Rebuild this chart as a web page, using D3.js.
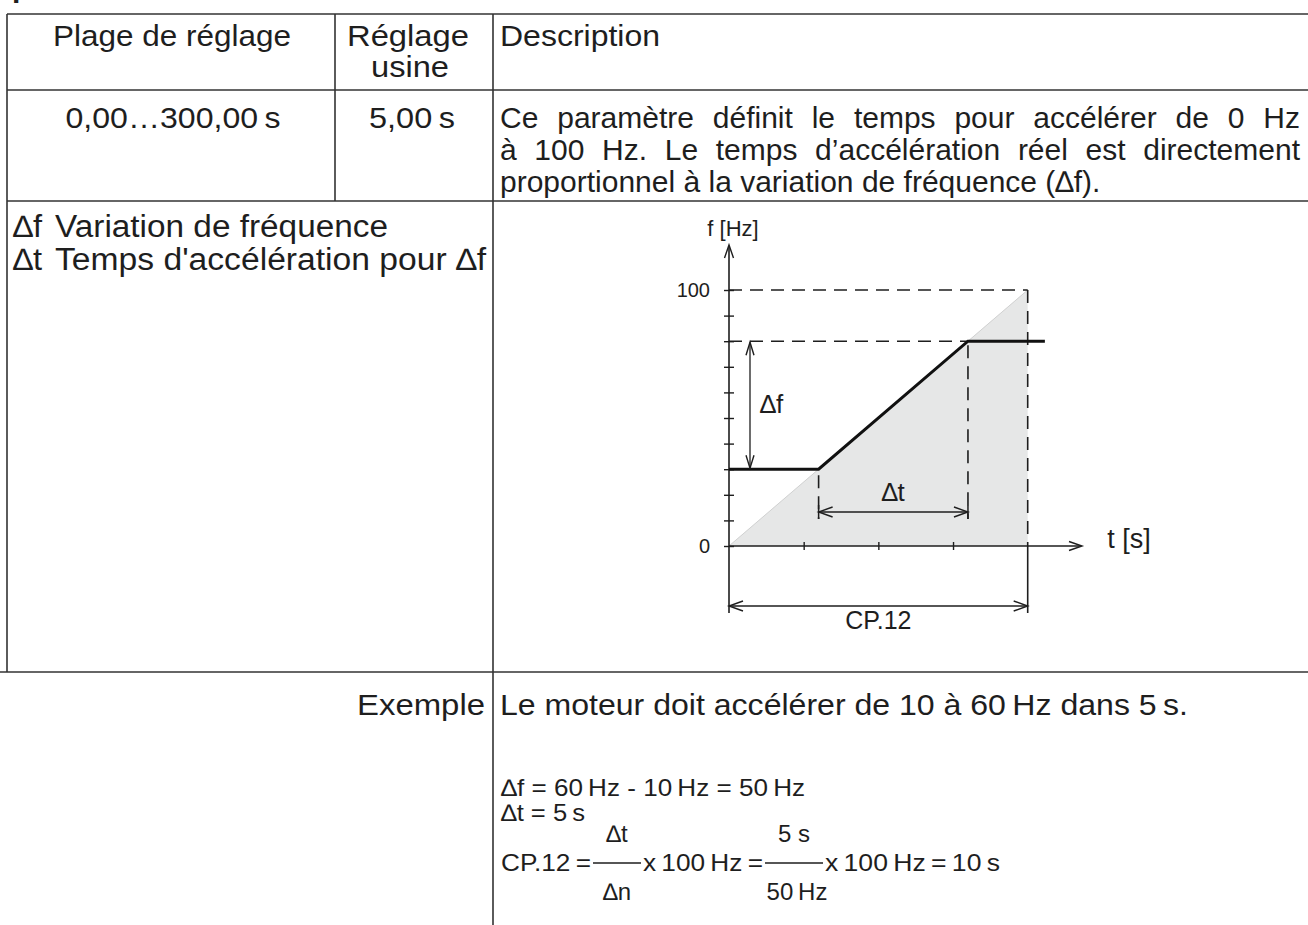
<!DOCTYPE html>
<html><head><meta charset="utf-8">
<script src="https://cdn.jsdelivr.net/npm/d3@7"></script>
<style>
html,body{margin:0;padding:0;background:#fff;}
svg{display:block;font-family:"Liberation Sans",Arial,Helvetica,sans-serif;}
</style></head><body>
<svg id="c" width="1308" height="925"></svg>
<script>
// ---------- DATA ----------
const headerLabels = ["Plage de réglage", "Réglage", "usine", "Description"];
const rangeText = "0,00…300,00\u2009s";
const defaultText = "5,00\u2009s";
const descriptionLines = [
  "Ce paramètre définit le temps pour accélérer de 0 Hz",
  "à 100 Hz. Le temps d’accélération réel est directement",
  "proportionnel à la variation de fréquence (\u2206f)."
];
const legendSymbols = ["\u2206f", "\u2206t"];
const legendTexts = ["Variation de fréquence", "Temps d'accélération pour \u2206f"];
const exampleLabel = "Exemple";
const exampleSentence = "Le moteur doit accélérer de 10 à 60\u2009Hz dans 5\u2009s.";
const exampleCalc = ["\u2206f = 60\u2009Hz - 10\u2009Hz = 50\u2009Hz", "\u2206t = 5\u2009s"];
const formulaParts = ["CP.12\u2009=", "x\u2009100\u2009Hz\u2009=", "x\u2009100\u2009Hz\u2009=\u200910\u2009s"];
const fractionNum = ["\u2206t", "5 s"];
const fractionDen = ["\u2206n", "50\u2009Hz"];

const yTicks = [0, 10, 20, 30, 40, 50, 60, 70, 80, 90, 100];
const yTickLabels = [{v: 0, label: "0"}, {v: 100, label: "100"}];
const xTicks = [1, 2, 3];
const tCP = 4;                  // CP.12 : time to reach 100 Hz
const fMax = 100;
const profile = [{t: 0, f: 30}, {t: 1.2, f: 30}, {t: 3.2, f: 80}, {t: 4.23, f: 80}];
const rampRef = [{t: 0, f: 0}, {t: 4, f: 100}];
const fLow = 30, fHigh = 80, tStart = 1.2, tEnd = 3.2;
const axisLabels = {y: "f [Hz]", x: "t [s]", df: "\u2206f", dt: "\u2206t", cp: "CP.12"};

// ---------- DRAW ----------
const svg = d3.select("#c");
const ink = "#1e1e1e";

function txt(g, x, y, s, o = {}) {
  const t = g.append("text").attr("x", x).attr("y", y).text(s)
    .attr("font-size", o.size || 26).attr("fill", o.fill || ink)
    .attr("text-anchor", o.anchor || "start");
  if (o.family) t.attr("font-family", o.family);
  if (o.width) t.attr("textLength", o.width).attr("lengthAdjust", "spacingAndGlyphs");
  return t;
}
function line(g, x1, y1, x2, y2, w = 1.5, c = ink, dash) {
  const l = g.append("line").attr("x1", x1).attr("y1", y1).attr("x2", x2).attr("y2", y2)
    .attr("stroke", c).attr("stroke-width", w);
  if (dash) l.attr("stroke-dasharray", dash);
  return l;
}
function justify(g, x0, x1, y, s, size) {
  const words = s.split(" ");
  const nodes = words.map(w => txt(g, 0, y, w, {size}));
  const widths = nodes.map(n => n.node().getComputedTextLength());
  const total = d3.sum(widths);
  const gap = (x1 - x0 - total) / (words.length - 1);
  let x = x0;
  nodes.forEach((n, i) => { n.attr("x", x); x += widths[i] + gap; });
}

// table
const T = svg.append("g");
const tw = 1.6, lc = "#333";
line(T, 7, 14, 1308, 14, tw, lc);
line(T, 7, 90, 1308, 90, tw, lc);
line(T, 7, 201, 1308, 201, tw, lc);
line(T, 0, 672, 1308, 672, tw, lc);
line(T, 7, 14, 7, 672, tw, lc);
line(T, 335, 14, 335, 201, tw, lc);
line(T, 493, 14, 493, 925, tw, lc);

// fragment of heading above table (cut off by the page edge, as in the source)
txt(T, 12, -3, "p", {size: 30}).attr("font-weight", "bold");

const fs = 30;
txt(T, 172, 46, headerLabels[0], {anchor: "middle", size: fs, width: 238});
txt(T, 408, 46, headerLabels[1], {anchor: "middle", size: fs, width: 122});
txt(T, 410, 77, headerLabels[2], {anchor: "middle", size: fs, width: 78});
txt(T, 500, 46, headerLabels[3], {size: fs, width: 160});

txt(T, 173, 128, rangeText, {anchor: "middle", size: fs, width: 215});
txt(T, 455, 128, defaultText, {anchor: "end", size: fs, width: 86});
justify(T, 500, 1300, 128, descriptionLines[0], fs);
justify(T, 500, 1300, 160, descriptionLines[1], fs);
txt(T, 500, 192, descriptionLines[2], {size: fs});

legendSymbols.forEach((s, i) => {
  txt(T, 13, 237 + i * 33, s, {size: 31, width: 29});
});
txt(T, 55, 237, legendTexts[0], {size: 31, width: 333});
txt(T, 55, 270, legendTexts[1], {size: 31, width: 431});

txt(T, 485, 715, exampleLabel, {anchor: "end", size: fs, width: 128});
txt(T, 500, 715, exampleSentence, {size: fs, width: 688});

// example calculation
const cs = 24;
txt(T, 501, 796, exampleCalc[0], {size: cs, width: 304});
txt(T, 501, 821, exampleCalc[1], {size: cs, width: 84});
const fy = 871;
let cx = 501;
const p0 = txt(T, cx, fy, formulaParts[0], {size: cs, width: 90});
cx += 92;
const b1 = [cx, cx + 48];
line(T, b1[0], fy - 8, b1[1], fy - 8, 1.3);
cx = b1[1] + 2;
const p1 = txt(T, cx, fy, formulaParts[1], {size: cs, width: 120});
cx += 122;
const b2 = [cx, cx + 58];
line(T, b2[0], fy - 8, b2[1], fy - 8, 1.3);
cx = b2[1] + 2;
txt(T, cx, fy, formulaParts[2], {size: cs, width: 175});
[b1, b2].forEach((b, i) => {
  txt(T, (b[0] + b[1]) / 2, fy - 29, fractionNum[i], {size: cs, anchor: "middle"});
  txt(T, (b[0] + b[1]) / 2 + (i ? 3 : 0), fy + 29, fractionDen[i], {size: cs, anchor: "middle"});
});

// chart
const C = svg.append("g");
const x = d3.scaleLinear().domain([0, tCP]).range([729, 1027.7]);
const y = d3.scaleLinear().domain([0, fMax]).range([546, 290]);

// gray area under reference ramp
const area = d3.area().x(d => x(d.t)).y0(y(0)).y1(d => y(d.f));
C.append("path").datum(rampRef).attr("d", area).attr("fill", "#e6e7e7");
C.append("path").datum(rampRef).attr("d", d3.line().x(d => x(d.t)).y(d => y(d.f)))
  .attr("stroke", "#cfd0d0").attr("stroke-width", 1).attr("fill", "none");

// dashed guides
const dash = "13,8";
line(C, x(0), y(fMax), x(tCP), y(fMax), 1.5, ink, dash);
line(C, x(tCP), y(fMax), x(tCP), y(0), 1.6, ink, dash);
line(C, x(0), y(fHigh), x(tEnd), y(fHigh), 1.5, ink, dash);
line(C, x(tEnd), y(fHigh), x(tEnd), 519, 1.6, ink, dash).attr("stroke-dashoffset", -4);
line(C, x(tStart), y(fLow) + 6, x(tStart), 519, 1.6, ink, dash);

// axes
const yAxis = d3.axisLeft(y).tickValues(yTicks).tickSize(5).tickFormat("");
const ga = C.append("g").attr("transform", `translate(${x(0)},0)`).call(yAxis);
ga.select(".domain").remove();
ga.selectAll(".tick line").attr("x1", -5).attr("x2", 5).attr("stroke", ink).attr("stroke-width", 1.4);
const xAxis = d3.axisBottom(x).tickValues(xTicks).tickSize(4).tickFormat("");
const gx = C.append("g").attr("transform", `translate(0,${y(0)})`).call(xAxis);
gx.select(".domain").remove();
gx.selectAll(".tick line").attr("y1", -4).attr("y2", 4).attr("stroke", ink).attr("stroke-width", 1.4);

line(C, x(0), 613, x(0), 246, 1.6);
line(C, x(0), y(0), 1081, y(0), 1.6);
function chevron(px, py, dir, len = 13, hw = 4.5) {
  let pts;
  if (dir === "up") pts = [[px - hw, py + len], [px, py], [px + hw, py + len]];
  if (dir === "down") pts = [[px - hw, py - len], [px, py], [px + hw, py - len]];
  if (dir === "right") pts = [[px - len, py - hw], [px, py], [px - len, py + hw]];
  if (dir === "left") pts = [[px + len, py - hw], [px, py], [px + len, py + hw]];
  C.append("path").attr("d", d3.line()(pts)).attr("fill", "none").attr("stroke", ink).attr("stroke-width", 1.4);
}
chevron(x(0), 245, "up");
chevron(1082, y(0), "right");

yTickLabels.forEach(d => txt(C, 710, y(d.v) + 7, d.label, {size: 20, anchor: "end"}));
txt(C, 733, 236, axisLabels.y, {size: 22, anchor: "middle"});
txt(C, 1129, 548, axisLabels.x, {size: 27, anchor: "middle"});

// profile
C.append("path").datum(profile)
  .attr("d", d3.line().x(d => x(d.t)).y(d => y(d.f)))
  .attr("fill", "none").attr("stroke", "#111").attr("stroke-width", 3).attr("stroke-linejoin", "miter");

// delta f dimension
const dfx = 750;
line(C, dfx, y(fHigh) + 1, dfx, y(fLow) - 1, 1.3);
chevron(dfx, y(fHigh) + 1, "up", 13, 4);
chevron(dfx, y(fLow) - 1, "down", 13, 4);
txt(C, 760, 413, axisLabels.df, {size: 26});

// delta t dimension
const dty = 512;
line(C, x(tStart), dty, x(tEnd), dty, 1.3);
line(C, x(tStart), dty - 7, x(tStart), dty + 7, 1.5);
line(C, x(tEnd), dty - 7, x(tEnd), dty + 7, 1.5);
chevron(x(tStart), dty, "left", 14, 5);
chevron(x(tEnd), dty, "right", 14, 5);
txt(C, (x(tStart) + x(tEnd)) / 2, dty - 11, axisLabels.dt, {size: 26, anchor: "middle"});

// CP.12 dimension
const cpy = 606;
line(C, x(tCP), y(0), x(tCP), 613, 1.6);
line(C, x(0), cpy, x(tCP), cpy, 1.3);
chevron(x(0), cpy, "left", 14, 5);
chevron(x(tCP), cpy, "right", 14, 5);
txt(C, (x(0) + x(tCP)) / 2, 629, axisLabels.cp, {size: 25, anchor: "middle"});
</script>
</body></html>
